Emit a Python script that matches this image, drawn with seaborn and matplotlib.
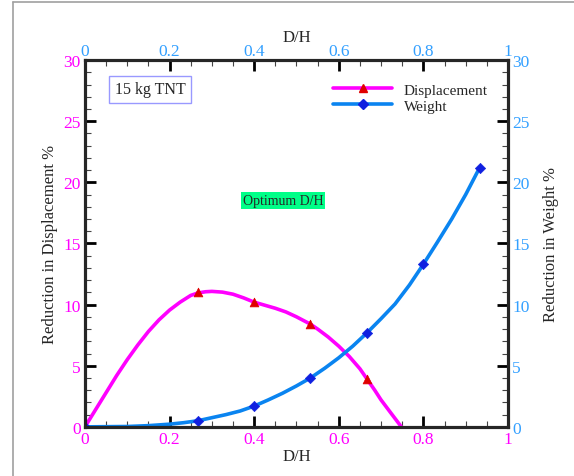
import matplotlib
matplotlib.use("Agg")
import matplotlib.pyplot as plt
import seaborn as sns
import pandas as pd
from matplotlib.lines import Line2D
from matplotlib.ticker import MultipleLocator

# values
disp_x = [0.0, 0.267, 0.4, 0.533, 0.667]
disp_y = [0.0, 11.0, 10.2, 8.4, 3.9]
weight_x = [0.0, 0.267, 0.4, 0.533, 0.667, 0.8, 0.933]
weight_y = [0.0, 0.5, 1.7, 4.0, 7.7, 13.3, 21.2]

# smooth curve traced through the markers
disp_curve_x = [0.0, 0.025, 0.05, 0.075, 0.1, 0.125, 0.15, 0.175, 0.2, 0.225, 0.25, 0.267,
                0.285, 0.3, 0.325, 0.35, 0.375, 0.4, 0.425, 0.45, 0.475, 0.5, 0.533, 0.55,
                0.575, 0.6, 0.625, 0.65, 0.667, 0.685, 0.7, 0.725, 0.748]
disp_curve_y = [0.0, 1.4, 2.8, 4.2, 5.5, 6.7, 7.8, 8.75, 9.55, 10.2, 10.75, 10.95,
                11.05, 11.08, 11.02, 10.85, 10.55, 10.2, 9.95, 9.7, 9.4, 9.0, 8.4, 8.0,
                7.35, 6.6, 5.75, 4.75, 3.9, 3.0, 2.2, 1.05, 0.0]
weight_curve_x = [0.0, 0.1, 0.15, 0.2, 0.233, 0.267, 0.3, 0.333, 0.367, 0.4, 0.433, 0.467,
                  0.5, 0.533, 0.567, 0.6, 0.633, 0.667, 0.7, 0.733, 0.767, 0.8, 0.833,
                  0.867, 0.9, 0.933]
weight_curve_y = [0.0, 0.03, 0.1, 0.22, 0.34, 0.5, 0.75, 1.0, 1.3, 1.7, 2.2, 2.75,
                  3.35, 4.0, 4.8, 5.65, 6.6, 7.7, 8.85, 10.05, 11.6, 13.3, 15.1,
                  17.0, 19.0, 21.2]

sns.set_style("white")
plt.rcParams['font.family'] = ['Liberation Serif', 'DejaVu Serif']

magenta = '#ff00ff'
blue_line = '#0a84f0'
blue_tick = '#33a0ff'

fig = plt.figure(figsize=(5.74, 4.77), dpi=100)
ax = fig.add_axes([0.148, 0.103, 0.737, 0.769])

sns.lineplot(x=disp_curve_x, y=disp_curve_y, ax=ax, color=magenta, lw=2.6,
             sort=False, estimator=None)
sns.scatterplot(x=disp_x, y=disp_y, ax=ax, marker='^', color='#e00000', s=40,
                edgecolor='#e00000', zorder=5)
sns.lineplot(x=weight_curve_x, y=weight_curve_y, ax=ax, color=blue_line, lw=2.6,
             sort=False, estimator=None)
sns.scatterplot(x=weight_x, y=weight_y, ax=ax, marker='D', color='#1020e0', s=28,
                edgecolor='#1020e0', zorder=5)

ax.set_xlim(0, 1)
ax.set_ylim(0, 30)
ax.xaxis.set_major_locator(MultipleLocator(0.2))
ax.xaxis.set_minor_locator(MultipleLocator(0.05))
ax.yaxis.set_major_locator(MultipleLocator(5))
ax.yaxis.set_minor_locator(MultipleLocator(1))
ax.set_xticks([0, 0.2, 0.4, 0.6, 0.8, 1.0])
ax.set_xticklabels(['0', '0.2', '0.4', '0.6', '0.8', '1'])
ax.tick_params(which='major', direction='in', length=8, width=2, colors='black',
               labelsize=12.5, pad=3)
ax.tick_params(which='minor', direction='in', length=4, width=0.8, colors='#444444')
for lab in ax.get_xticklabels() + ax.get_yticklabels():
    lab.set_color(magenta)
ax.set_xlabel('D/H', fontsize=12, labelpad=1)
ax.set_ylabel('Reduction in Displacement %', fontsize=12, labelpad=4)
for s in ax.spines.values():
    s.set_linewidth(2.2)
    s.set_color('black')

# right axis
ax2 = ax.twinx()
ax2.set_ylim(0, 30)
ax2.yaxis.set_major_locator(MultipleLocator(5))
ax2.yaxis.set_minor_locator(MultipleLocator(1))
ax2.tick_params(which='major', direction='in', length=8, width=2, colors='black',
                labelsize=12.5, labelcolor=blue_tick, pad=3)
ax2.tick_params(which='minor', direction='in', length=4, width=0.8, colors='#444444')
ax2.set_ylabel('Reduction in Weight %', fontsize=12, rotation=90, labelpad=10)

# top axis
ax3 = ax.twiny()
ax3.set_xlim(0, 1)
ax3.xaxis.set_major_locator(MultipleLocator(0.2))
ax3.xaxis.set_minor_locator(MultipleLocator(0.05))
ax3.set_xticks([0, 0.2, 0.4, 0.6, 0.8, 1.0])
ax3.set_xticklabels(['0', '0.2', '0.4', '0.6', '0.8', '1'])
ax3.tick_params(which='major', direction='in', length=8, width=2, colors='black',
                labelsize=12.5, labelcolor=blue_tick, pad=1)
ax3.tick_params(which='minor', direction='in', length=4, width=0.8, colors='#444444')
ax3.set_xlabel('D/H', fontsize=12, labelpad=1)
for a in (ax2, ax3):
    for s in a.spines.values():
        s.set_linewidth(2.2)

handles = [
    Line2D([], [], color=magenta, lw=2.6, marker='^', markersize=6,
           markerfacecolor='#e00000', markeredgecolor='#e00000'),
    Line2D([], [], color=blue_line, lw=2.6, marker='D', markersize=5,
           markerfacecolor='#1020e0', markeredgecolor='#1020e0'),
]
ax.legend(handles, ['Displacement', 'Weight'], loc='upper left',
          bbox_to_anchor=(0.555, 0.975), frameon=False, fontsize=11,
          handlelength=3.8, handletextpad=0.8, labelspacing=0.15)

ax.text(0.07, 27.6, '15 kg TNT', fontsize=11.5, ha='left', va='center',
        bbox=dict(boxstyle='square,pad=0.35', facecolor='white', edgecolor='#9999ff', lw=1))
ax.text(0.468, 18.5, 'Optimum D/H', fontsize=10, ha='center', va='center',
        bbox=dict(boxstyle='square,pad=0.15', facecolor='#00ff88', edgecolor='none'))

# gray page frame
fig.add_artist(Line2D([0.022, 0.022], [0, 0.994], color='#a0a0a0', lw=1.2,
                      transform=fig.transFigure))
fig.add_artist(Line2D([0.022, 1.0], [0.994, 0.994], color='#a0a0a0', lw=1.2,
                      transform=fig.transFigure))

fig.savefig('out.png', dpi=100)
